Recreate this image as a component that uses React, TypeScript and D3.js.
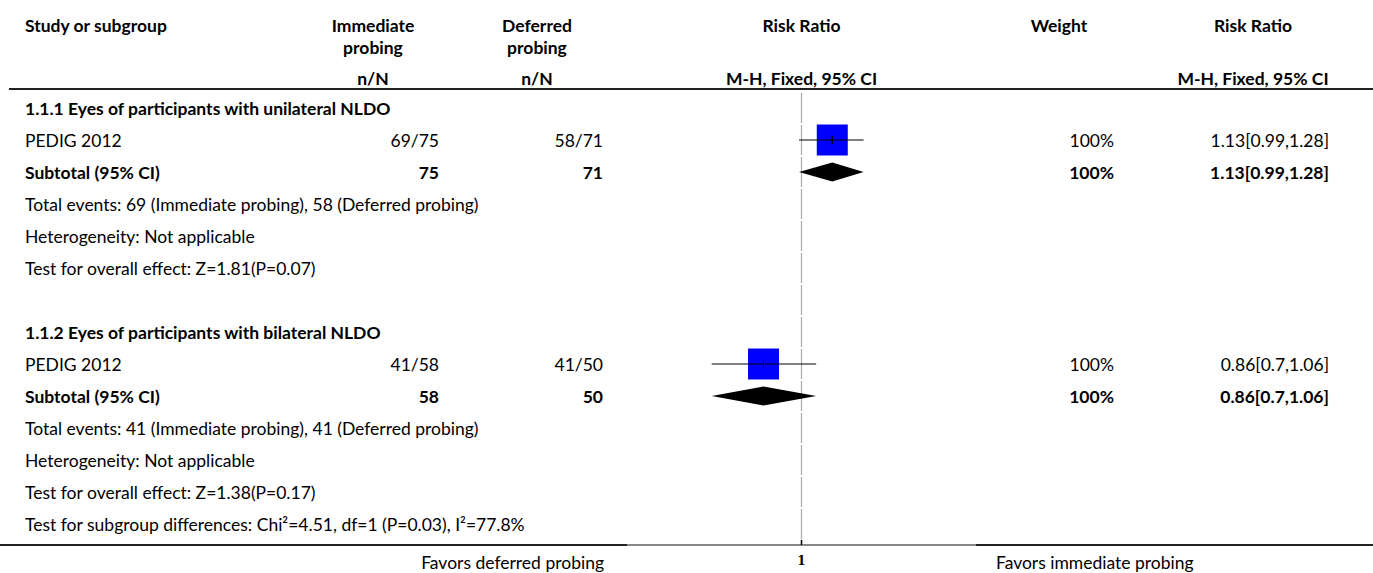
import React, { useEffect, useRef } from 'react';
import * as d3 from 'd3';

// subgroup data
const subgroupTitles = [
  '1.1.1 Eyes of participants with unilateral NLDO',
  '1.1.2 Eyes of participants with bilateral NLDO',
];
const studyNames = ['PEDIG 2012', 'PEDIG 2012'];
const immEvents = [69, 41];
const immTotal = [75, 58];
const defEvents = [58, 41];
const defTotal = [71, 50];
const riskRatio = [1.13, 0.86];
const ciLow = [0.99, 0.7];
const ciHigh = [1.28, 1.06];
const weights = [100, 100];

const totalEventsText = [
  'Total events: 69 (Immediate probing), 58 (Deferred probing)',
  'Total events: 41 (Immediate probing), 41 (Deferred probing)',
];
const heterogeneityText = ['Heterogeneity: Not applicable', 'Heterogeneity: Not applicable'];
const overallEffectText = [
  'Test for overall effect: Z=1.81(P=0.07)',
  'Test for overall effect: Z=1.38(P=0.17)',
];
const subgroupDiffText = 'Test for subgroup differences: Chi\u00b2=4.51, df=1 (P=0.03), I\u00b2=77.8%';

const axisDomain = [0.5, 2];
const axisTicks = [1];
const favorsLeft = 'Favors deferred probing';
const favorsRight = 'Favors immediate probing';

const App = () => {
  const svgRef = useRef<SVGSVGElement>(null);

  useEffect(() => {
    const width = 1373;
    const height = 573;
    const svg = d3.select(svgRef.current);
    svg.selectAll('*').remove();
    svg.attr('width', width).attr('height', height);

    const font = 'Lato, "Noto Sans", sans-serif';
    const fs = 17.5;

    // columns
    const xStudy = 25;
    const xImmRight = 439;
    const xImmHead = 373;
    const xDefRight = 603;
    const xDefHead = 537;
    const xWeightRight = 1114;
    const xWeightHead = 1059;
    const xRRRight = 1329;
    const xRRHead = 1253;

    const x = d3.scaleLog().domain(axisDomain).range([627, 976]);

    const headerLineY = 89;
    const rowStep = 32;
    const rowY = (i: number) => 108 + rowStep * i;
    const axisY = 545;

    const text = (
      tx: number,
      ty: number,
      s: string,
      anchor = 'start',
      bold = false,
      size = fs
    ) =>
      svg
        .append('text')
        .attr('x', tx)
        .attr('y', ty)
        .attr('text-anchor', anchor)
        .attr('dominant-baseline', 'central')
        .attr('font-family', font)
        .attr('font-size', size)
        .attr('font-weight', bold ? 'bold' : 'normal')
        .attr('fill', '#000')
        .text(s);

    // header
    text(xStudy, 25, 'Study or subgroup', 'start', true);
    text(xImmHead, 25, 'Immediate', 'middle', true);
    text(xImmHead, 47, 'probing', 'middle', true);
    text(xImmHead, 78, 'n/N', 'middle', true);
    text(xDefHead, 25, 'Deferred', 'middle', true);
    text(xDefHead, 47, 'probing', 'middle', true);
    text(xDefHead, 78, 'n/N', 'middle', true);
    text(x(1), 25, 'Risk Ratio', 'middle', true);
    text(x(1), 78, 'M-H, Fixed, 95% CI', 'middle', true);
    text(xWeightHead, 25, 'Weight', 'middle', true);
    text(xRRHead, 25, 'Risk Ratio', 'middle', true);
    text(xRRHead, 78, 'M-H, Fixed, 95% CI', 'middle', true);

    svg
      .append('line')
      .attr('x1', 9)
      .attr('x2', width)
      .attr('y1', headerLineY)
      .attr('y2', headerLineY)
      .attr('stroke', '#222')
      .attr('stroke-width', 2);

    // line of no effect, split per row
    for (let i = 0; i < 14; i++) {
      svg
        .append('line')
        .attr('x1', x(1))
        .attr('x2', x(1))
        .attr('y1', rowY(i) - 15)
        .attr('y2', rowY(i) + 15)
        .attr('stroke', '#aaa')
        .attr('stroke-width', 1.2);
    }
    svg
      .append('line')
      .attr('x1', x(1))
      .attr('x2', x(1))
      .attr('y1', rowY(13) + 17)
      .attr('y2', axisY)
      .attr('stroke', '#aaa')
      .attr('stroke-width', 1.2);

    subgroupTitles.forEach((title, g) => {
      const base = g * 7;

      text(xStudy, rowY(base), title, 'start', true);

      // study row
      const ys = rowY(base + 1);
      text(xStudy, ys, studyNames[g]);
      text(xImmRight, ys, `${immEvents[g]}/${immTotal[g]}`, 'end');
      text(xDefRight, ys, `${defEvents[g]}/${defTotal[g]}`, 'end');
      text(xWeightRight, ys, `${weights[g]}%`, 'end');
      text(xRRRight, ys, `${riskRatio[g]}[${ciLow[g]},${ciHigh[g]}]`, 'end');

      const size = 31 * Math.sqrt(weights[g] / 100);
      svg
        .append('rect')
        .attr('x', x(riskRatio[g]) - size / 2)
        .attr('y', ys - size / 2)
        .attr('width', size)
        .attr('height', size)
        .attr('fill', '#0000ff');
      svg
        .append('line')
        .attr('x1', x(ciLow[g]))
        .attr('x2', x(ciHigh[g]))
        .attr('y1', ys)
        .attr('y2', ys)
        .attr('stroke', '#000')
        .attr('stroke-width', 1);
      svg
        .append('line')
        .attr('x1', x(riskRatio[g]))
        .attr('x2', x(riskRatio[g]))
        .attr('y1', ys - 4)
        .attr('y2', ys + 4)
        .attr('stroke', '#000')
        .attr('stroke-width', 1.2);

      // subtotal row
      const yt = rowY(base + 2);
      text(xStudy, yt, 'Subtotal (95% CI)', 'start', true);
      text(xImmRight, yt, `${immTotal[g]}`, 'end', true);
      text(xDefRight, yt, `${defTotal[g]}`, 'end', true);
      text(xWeightRight, yt, `${weights[g]}%`, 'end', true);
      text(xRRRight, yt, `${riskRatio[g]}[${ciLow[g]},${ciHigh[g]}]`, 'end', true);

      const dh = 9.5;
      const diamond = d3.line()([
        [x(ciLow[g]), yt],
        [x(riskRatio[g]), yt - dh],
        [x(ciHigh[g]), yt],
        [x(riskRatio[g]), yt + dh],
      ]);
      svg.append('path').attr('d', diamond + 'Z').attr('fill', '#000');

      text(xStudy, rowY(base + 3), totalEventsText[g]);
      text(xStudy, rowY(base + 4), heterogeneityText[g]);
      text(xStudy, rowY(base + 5), overallEffectText[g]);
    });

    text(xStudy, rowY(13), subgroupDiffText);

    // bottom axis
    svg
      .append('line')
      .attr('x1', 0)
      .attr('x2', width)
      .attr('y1', axisY)
      .attr('y2', axisY)
      .attr('stroke', '#222')
      .attr('stroke-width', 2);
    svg
      .append('line')
      .attr('x1', x.range()[0])
      .attr('x2', x.range()[1])
      .attr('y1', axisY)
      .attr('y2', axisY)
      .attr('stroke', '#888')
      .attr('stroke-width', 2);

    axisTicks.forEach(t => {
      svg
        .append('line')
        .attr('x1', x(t))
        .attr('x2', x(t))
        .attr('y1', axisY - 5)
        .attr('y2', axisY)
        .attr('stroke', '#000')
        .attr('stroke-width', 1.5);
      svg
        .append('text')
        .attr('x', x(t))
        .attr('y', axisY + 16)
        .attr('text-anchor', 'middle')
        .attr('dominant-baseline', 'central')
        .attr('font-family', 'DejaVu Serif, serif')
        .attr('font-size', 12)
        .attr('font-weight', 'bold')
        .text(String(t));
    });

    text(x.range()[0] - 23, 562, favorsLeft, 'end');
    text(x.range()[1] + 20, 562, favorsRight, 'start');
  }, []);

  return (
    <div style={{ position: 'absolute', left: 0, top: 0 }}>
      <svg ref={svgRef}></svg>
    </div>
  );
};

export default App;
